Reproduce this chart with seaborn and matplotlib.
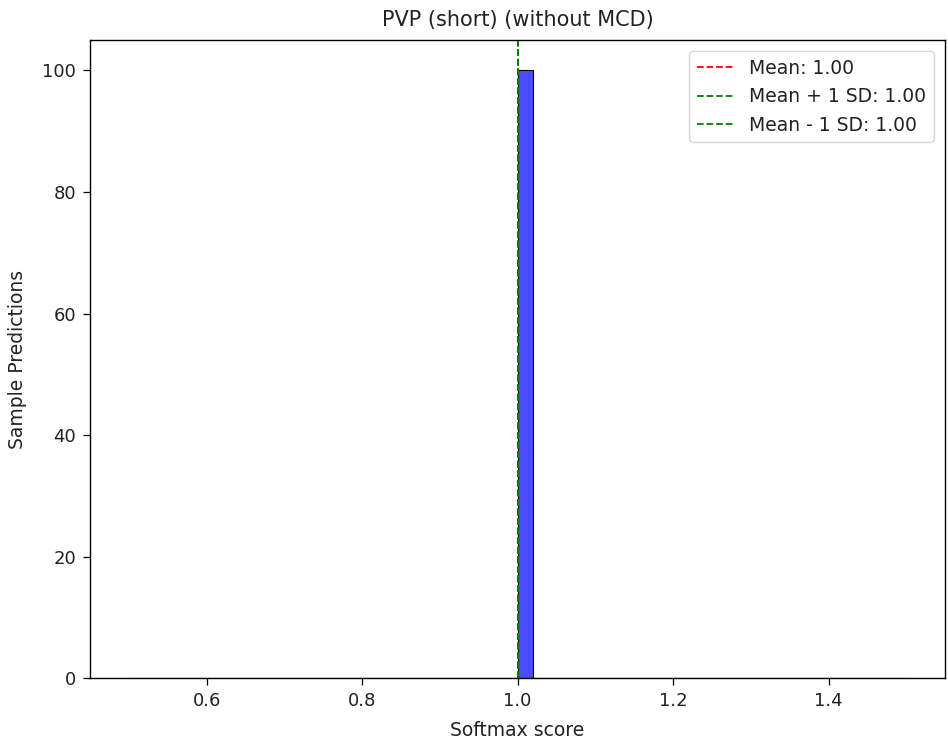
import numpy as np
import pandas as pd
import matplotlib
matplotlib.use("Agg")
import matplotlib.pyplot as plt
import seaborn as sns

# Data: 100 sample predictions, all softmax scores equal to 1.0
scores = [1.0] * 100
mean_val = 1.00
sd_val = 0.00
title = "PVP (short) (without MCD)"
xlabel = "Softmax score"
ylabel = "Sample Predictions"

sns.set_style("white")
plt.rcParams['font.family'] = ['DejaVu Sans']

fig, ax = plt.subplots(figsize=(9.48, 7.42), dpi=100)
fig.subplots_adjust(left=0.095, right=0.997, top=0.946, bottom=0.086)

df = pd.DataFrame({"score": scores})
sns.histplot(data=df, x="score", bins=50, binrange=(0.5, 1.5), color="blue",
             alpha=0.7, edgecolor="black", linewidth=0.8, ax=ax)

ax.axvline(mean_val, color="red", linestyle="--", linewidth=1.3, label=f"Mean: {mean_val:.2f}")
ax.axvline(mean_val + sd_val, color="green", linestyle="--", linewidth=1.3,
           label=f"Mean + 1 SD: {mean_val + sd_val:.2f}")
ax.axvline(mean_val - sd_val, color="green", linestyle="--", linewidth=1.3,
           label=f"Mean - 1 SD: {mean_val - sd_val:.2f}")

ax.set_xlim(0.45, 1.55)
ax.set_xticks([0.6, 0.8, 1.0, 1.2, 1.4])
ax.set_title(title, fontsize=15, color="#222222", pad=10)
ax.set_xlabel(xlabel, fontsize=13.5, color="#222222", labelpad=8)
ax.set_ylabel(ylabel, fontsize=13.5, color="#222222", labelpad=11)
ax.tick_params(axis="both", which="both", length=5, width=0.9, direction="out",
               bottom=True, left=True, labelsize=13, colors="black", pad=5)
for lab in ax.get_xticklabels() + ax.get_yticklabels():
    lab.set_color("#222222")
for s in ax.spines.values():
    s.set_visible(True)
    s.set_color("black")
    s.set_linewidth(1.0)
leg = ax.legend(loc="upper right", fontsize=13.5, frameon=True, borderaxespad=0.6)
for t in leg.get_texts():
    t.set_color("#222222")

fig.savefig("out.png", dpi=100)
